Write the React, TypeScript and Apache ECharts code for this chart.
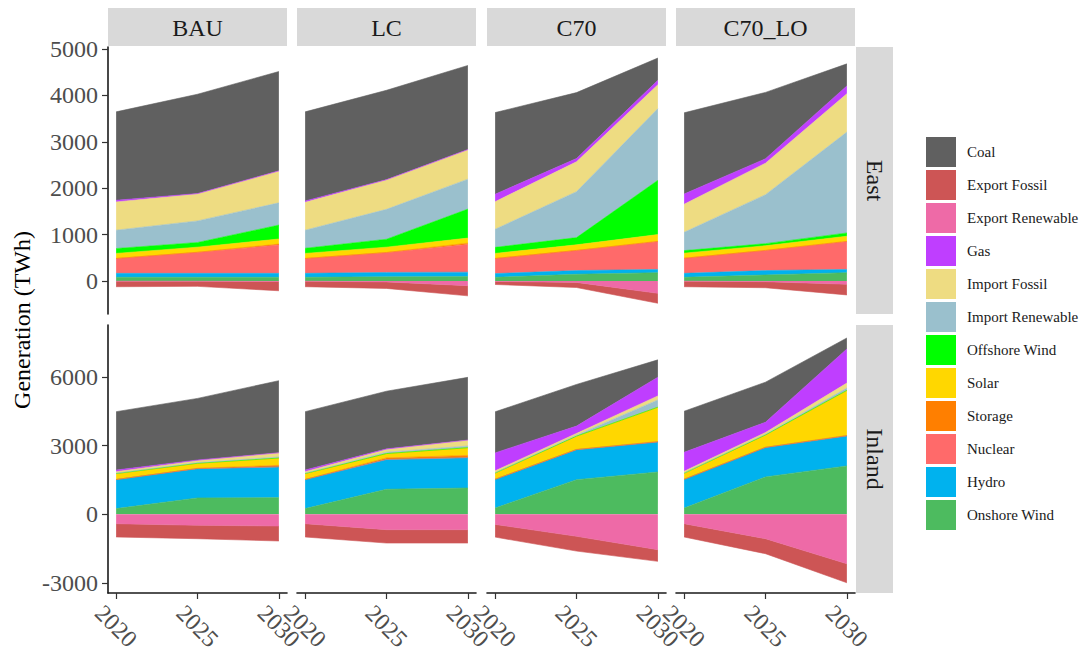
import React, { useEffect, useRef } from "react";
import * as echarts from "echarts";

// ---------- data ----------
const YEARS = [2020, 2025, 2030];
const SCENARIOS = ["BAU", "LC", "C70", "C70_LO"];
const REGIONS = ["East", "Inland"];

// legend order (ggplot factor order)
const SOURCES = [
  "Coal", "Export Fossil", "Export Renewable", "Gas", "Import Fossil", "Import Renewable",
  "Offshore Wind", "Solar", "Storage", "Nuclear", "Hydro", "Onshore Wind",
];

// values per panel: [2020, 2025, 2030] in TWh
const EAST_BAU = {
  "Onshore Wind": [80, 80, 80], "Hydro": [85, 85, 85], "Nuclear": [320, 450, 610],
  "Storage": [0, 5, 20], "Solar": [110, 110, 110], "Offshore Wind": [105, 100, 300],
  "Import Renewable": [395, 465, 480], "Import Fossil": [610, 580, 680], "Gas": [35, 10, 10],
  "Coal": [1905, 2140, 2140], "Export Renewable": [-3, -5, -10], "Export Fossil": [-120, -110, -200],
};
const EAST_LC = {
  "Onshore Wind": [80, 90, 95], "Hydro": [85, 95, 95], "Nuclear": [320, 425, 595],
  "Storage": [0, 5, 30], "Solar": [110, 115, 110], "Offshore Wind": [110, 170, 625],
  "Import Renewable": [390, 645, 645], "Import Fossil": [600, 630, 630], "Gas": [30, 10, 10],
  "Coal": [1920, 1925, 1810], "Export Renewable": [-3, -20, -100], "Export Fossil": [-120, -140, -220],
};
const EAST_C70 = {
  "Onshore Wind": [80, 145, 180], "Hydro": [80, 80, 70], "Nuclear": [325, 430, 595],
  "Storage": [0, 5, 10], "Solar": [110, 120, 145], "Offshore Wind": [130, 155, 1170],
  "Import Renewable": [390, 990, 1545], "Import Fossil": [595, 645, 515], "Gas": [160, 70, 95],
  "Coal": [1760, 1420, 480], "Export Renewable": [-10, -30, -265], "Export Fossil": [-65, -110, -215],
};
const EAST_C70_LO = {
  "Onshore Wind": [80, 130, 180], "Hydro": [85, 95, 70], "Nuclear": [325, 430, 595],
  "Storage": [0, 5, 10], "Solar": [110, 100, 110], "Offshore Wind": [55, 45, 70],
  "Import Renewable": [395, 1055, 2175], "Import Fossil": [605, 680, 825], "Gas": [220, 95, 170],
  "Coal": [1750, 1430, 475], "Export Renewable": [-3, -15, -70], "Export Fossil": [-120, -130, -230],
};
const INLAND_BAU = {
  "Onshore Wind": [250, 715, 730], "Hydro": [1270, 1280, 1340], "Nuclear": [0, 0, 0],
  "Storage": [0, 15, 70], "Solar": [260, 220, 320], "Offshore Wind": [0, 0, 0],
  "Import Renewable": [15, 30, 45], "Import Fossil": [70, 85, 175], "Gas": [70, 30, 10],
  "Coal": [2550, 2690, 3150], "Export Renewable": [-410, -480, -510], "Export Fossil": [-580, -585, -655],
};
const INLAND_LC = {
  "Onshore Wind": [250, 1095, 1150], "Hydro": [1270, 1300, 1325], "Nuclear": [0, 0, 0],
  "Storage": [0, 70, 100], "Solar": [260, 190, 335], "Offshore Wind": [0, 0, 0],
  "Import Renewable": [15, 60, 75], "Import Fossil": [70, 115, 250], "Gas": [70, 30, 10],
  "Coal": [2550, 2520, 2740], "Export Renewable": [-410, -670, -670], "Export Fossil": [-580, -585, -585],
};
const INLAND_C70 = {
  "Onshore Wind": [275, 1515, 1850], "Hydro": [1255, 1310, 1310], "Nuclear": [0, 0, 0],
  "Storage": [0, 10, 20], "Solar": [275, 580, 1500], "Offshore Wind": [0, 0, 0],
  "Import Renewable": [10, 45, 320], "Import Fossil": [85, 75, 175], "Gas": [785, 320, 815],
  "Coal": [1795, 1820, 760], "Export Renewable": [-440, -960, -1545], "Export Fossil": [-555, -645, -510],
};
const INLAND_C70_LO = {
  "Onshore Wind": [275, 1635, 2115], "Hydro": [1255, 1285, 1310], "Nuclear": [0, 0, 0],
  "Storage": [0, 10, 20], "Solar": [265, 540, 1970], "Offshore Wind": [0, 0, 0],
  "Import Renewable": [10, 30, 100], "Import Fossil": [75, 75, 220], "Gas": [830, 450, 1490],
  "Coal": [1795, 1750, 480], "Export Renewable": [-410, -1065, -2160], "Export Fossil": [-580, -655, -830],
};

const PANELS = [
  [EAST_BAU, EAST_LC, EAST_C70, EAST_C70_LO],
  [INLAND_BAU, INLAND_LC, INLAND_C70, INLAND_C70_LO],
];

const Y_TICKS_EAST = [0, 1000, 2000, 3000, 4000, 5000];
const Y_TICKS_INLAND = [-3000, 0, 3000, 6000];

// ---------- styles ----------
const COLORS: Record<string, string> = {
  "Coal": "#606060",
  "Export Fossil": "#cd5555",
  "Export Renewable": "#ee6aa7",
  "Gas": "#bf3eff",
  "Import Fossil": "#eedc82",
  "Import Renewable": "#9ac0cd",
  "Offshore Wind": "#00ff00",
  "Solar": "#ffd700",
  "Storage": "#ff7f00",
  "Nuclear": "#ff6a6a",
  "Hydro": "#00b2ee",
  "Onshore Wind": "#4dbb5f",
};

// drawing order for stacking (bottom -> top; exports stack on the negative side)
const STACK_ORDER = [
  "Onshore Wind", "Hydro", "Nuclear", "Storage", "Solar", "Offshore Wind",
  "Import Renewable", "Import Fossil", "Gas", "Export Renewable", "Export Fossil", "Coal",
];

const FONT = "'Liberation Serif', 'DejaVu Serif', serif";
const LEFTS = [108, 297, 487, 676];
const PW = 179;
const ROW_TOP = [47, 325];
const ROW_H = [267, 268];
const Y_RANGE = [[-711, 5043], [-3437, 8272]];
const STRIP = "#d9d9d9";

export default function App() {
  const ref = useRef<HTMLDivElement>(null);

  useEffect(() => {
    document.body.style.margin = "0";
    const chart = echarts.init(ref.current!, null, { renderer: "svg" });

    const grids: any[] = [];
    const xAxes: any[] = [];
    const yAxes: any[] = [];
    const series: any[] = [];
    const graphics: any[] = [];

    REGIONS.forEach((region, r) => {
      SCENARIOS.forEach((sc, c) => {
        const k = r * 4 + c;
        grids.push({ left: LEFTS[c], top: ROW_TOP[r], width: PW, height: ROW_H[r], containLabel: false });
        const bottom = r === 1;
        xAxes.push({
          gridIndex: k, type: "value", min: 2019.5, max: 2030.5,
          splitLine: { show: false },
          axisLine: { show: bottom, onZero: false, lineStyle: { color: "#1a1a1a", width: 1.6 } },
          axisTick: { show: bottom, length: 6, customValues: YEARS, lineStyle: { color: "#333", width: 1.2 } },
          axisLabel: {
            show: bottom, customValues: YEARS, rotate: -45, margin: 33,
            align: "center", verticalAlign: "middle", padding: [22, 0, 0, 0],
            fontFamily: FONT, fontSize: 24, color: "#4d4d4d",
            formatter: (v: number) => String(v),
          },
        });
        const first = c === 0;
        const ticks = r === 0 ? Y_TICKS_EAST : Y_TICKS_INLAND;
        yAxes.push({
          gridIndex: k, type: "value", min: Y_RANGE[r][0], max: Y_RANGE[r][1],
          splitLine: { show: false },
          axisLine: { show: first, onZero: false, lineStyle: { color: "#1a1a1a", width: 1.6 } },
          axisTick: { show: first, length: 6, customValues: ticks, lineStyle: { color: "#333", width: 1.2 } },
          axisLabel: {
            show: first, customValues: ticks, margin: 10,
            fontFamily: FONT, fontSize: 24, color: "#4d4d4d",
            formatter: (v: number) => String(v),
          },
        });
        const panel: any = PANELS[r][c];
        STACK_ORDER.forEach((src) => {
          series.push({
            type: "line", name: src, xAxisIndex: k, yAxisIndex: k, stack: "p" + k,
            // value first so that stacking happens on the value dimension
            data: YEARS.map((y, i) => [panel[src][i], y]),
            encode: { x: 1, y: 0 },
            symbol: "none", showSymbol: false, silent: true,
            color: COLORS[src],
            lineStyle: { width: 0.6, color: COLORS[src] },
            areaStyle: { color: COLORS[src], opacity: 1 },
            emphasis: { disabled: true },
          });
        });
        if (r === 0) {
          graphics.push({ type: "rect", shape: { x: LEFTS[c], y: 8, width: PW, height: 38 }, style: { fill: STRIP } });
          graphics.push({
            type: "text", x: LEFTS[c] + PW / 2, y: 28,
            style: { text: sc, font: `24px ${FONT}`, fill: "#1a1a1a", align: "center", verticalAlign: "middle" },
          });
        }
      });
      graphics.push({ type: "rect", shape: { x: 856, y: ROW_TOP[r], width: 37, height: ROW_H[r] }, style: { fill: STRIP } });
      graphics.push({
        type: "text", x: 875, y: ROW_TOP[r] + ROW_H[r] / 2, rotation: -Math.PI / 2,
        style: { text: region, font: `24px ${FONT}`, fill: "#1a1a1a", align: "center", verticalAlign: "middle" },
      });
    });

    graphics.push({
      type: "text", x: 22, y: 320, rotation: Math.PI / 2,
      style: { text: "Generation (TWh)", font: `24px ${FONT}`, fill: "#000", align: "center", verticalAlign: "middle" },
    });

    chart.setOption({
      animation: false,
      backgroundColor: "#fff",
      textStyle: { fontFamily: FONT },
      grid: grids,
      xAxis: xAxes,
      yAxis: yAxes,
      series,
      legend: {
        data: SOURCES, orient: "vertical", left: 926, top: 137, padding: 0,
        itemWidth: 30, itemHeight: 30, itemGap: 3, icon: "rect",
        selectedMode: false,
        textStyle: { fontFamily: FONT, fontSize: 15, color: "#1a1a1a", padding: [0, 0, 0, 6] },
      },
      graphic: graphics,
    });

    return () => chart.dispose();
  }, []);

  return <div ref={ref} style={{ width: 1084, height: 659 }} />;
}
